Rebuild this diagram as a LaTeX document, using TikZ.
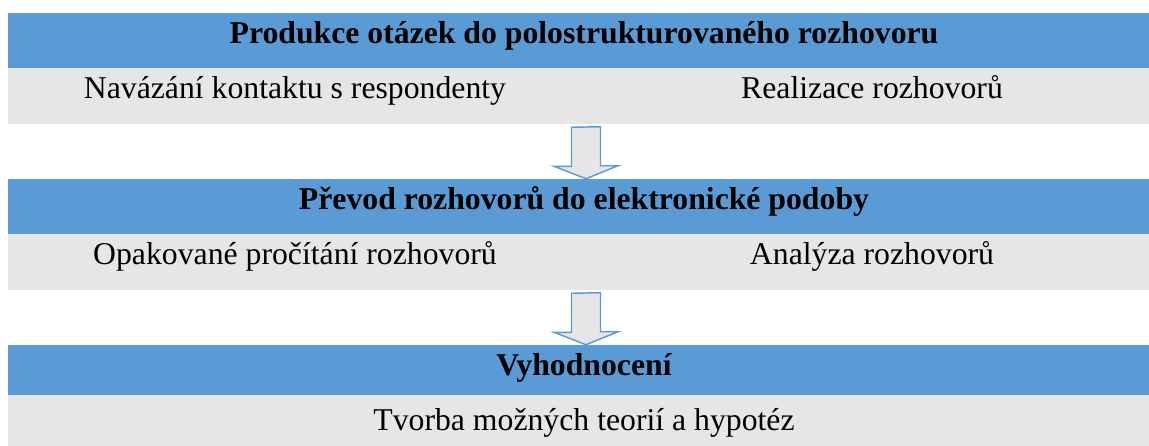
\documentclass[tikz,border=0pt]{standalone}
\usepackage{fontspec}
\setmainfont{Liberation Serif}
\usetikzlibrary{calc}
\definecolor{bandblue}{HTML}{5B9BD5}
\definecolor{bandgrey}{HTML}{E7E6E6}
\begin{document}
\begin{tikzpicture}
	[x=0.75pt,y=-0.75pt%
	,band/.style={rectangle,%
		inner sep=0pt,%
		minimum width=1152*0.75pt,%
		minimum height=55*0.75pt}%
	,headband/.style={band,fill=bandblue}%
	,rowband/.style={band,fill=bandgrey,minimum height=56*0.75pt}%
	,headtext/.style={anchor=base,inner sep=0pt,%
		font=\fontsize{23.8}{28}\selectfont\bfseries}%
	,rowtext/.style={anchor=base,inner sep=0pt,%
		font=\fontsize{23.8}{28}\selectfont}%
	,bigarrow/.style={draw=bandblue,fill=bandgrey,line width=1.1pt,line join=miter}]
	\useasboundingbox (0,0) rectangle (1149,446);
	% bands
	\node[headband] (h1) at (584,40.5) {};
	\node[rowband] (r1) at (584,96) {};
	\node[headband] (h2) at (584,206.5) {};
	\node[rowband] (r2) at (584,262) {};
	\node[headband] (h3) at (584,372.5) {};
	\node[rowband] (r3) at (584,423) {};
	% texts
	\node[headtext] (t1) at (584,43) {Produkce otázek do polostrukturovaného rozhovoru};
	\node[rowtext] (t1a) at (295,98) {Navázání kontaktu s respondenty};
	\node[rowtext] (t1b) at (872,98) {Realizace rozhovorů};
	\node[headtext] (t2) at (584,209) {Převod rozhovorů do elektronické podoby};
	\node[rowtext] (t2a) at (295,264) {Opakované pročítání rozhovorů};
	\node[rowtext] (t2b) at (872,264) {Analýza rozhovorů};
	\node[headtext] (t3) at (584,375) {Vyhodnocení};
	\node[rowtext] (t3a) at (584,430) {Tvorba možných teorií a hypotéz};
	% arrows
	\coordinate (mid) at (586,0);
	\draw[bigarrow] ($(mid |- r1.south)+(-14.5,3)$) -- ++(0,39) -- ++(-17.5,0)
		-- (mid |- h2.north) -- ++(32,-13) -- ++(-17.5,0) -- ++(0,-39) -- cycle;
	\draw[bigarrow] ($(mid |- r2.south)+(-14.5,3)$) -- ++(0,39) -- ++(-17.5,0)
		-- (mid |- h3.north) -- ++(32,-13) -- ++(-17.5,0) -- ++(0,-39) -- cycle;
\end{tikzpicture}
\end{document}
